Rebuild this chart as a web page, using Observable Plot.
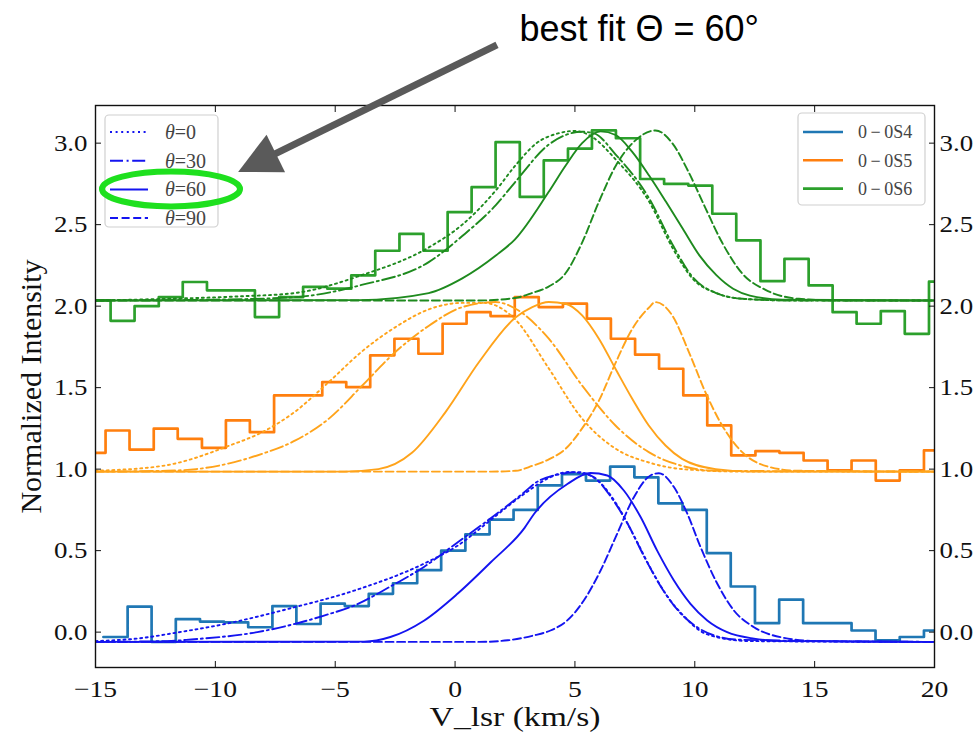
<!DOCTYPE html>
<html><head><meta charset="utf-8">
<script src="https://cdn.jsdelivr.net/npm/d3@7"></script>
<script src="https://cdn.jsdelivr.net/npm/@observablehq/plot@0.6"></script>
<style>body{margin:0;background:#fff;}</style>
</head><body><div id="chart"></div>
<script>
// ---- axis ticks ----
const xTicks = [-15, -10, -5, 0, 5, 10, 15, 20];
const yTicks = [0, 0.5, 1, 1.5, 2, 2.5, 3];

// ---- observed spectra (bin left edges + levels) ----
const s4Edges = [-14.67,-13.66,-12.66,-11.65,-10.64,-9.64,-8.63,-7.62,-6.62,-5.61,-4.60,-3.60,-2.59,-1.58,-0.58,0.43,1.44,2.44,3.45,4.46,5.46,6.47,7.48,8.48,9.49,10.50,11.50,12.51,13.52,14.52,15.53,16.54,17.54,18.55,19.56,20.56];
const s4Values = [-0.03,0.157,-0.06,0.08,0.065,0.06,0.03,0.16,0.05,0.175,0.16,0.235,0.30,0.38,0.50,0.60,0.69,0.75,0.90,0.97,0.93,1.015,0.95,0.79,0.75,0.485,0.28,0.055,0.20,0.055,0.055,0.01,-0.05,-0.03,0.01];

const s5Edges = [-15.58,-14.58,-13.58,-12.57,-11.57,-10.56,-9.56,-8.56,-7.55,-6.55,-5.54,-4.54,-3.54,-2.53,-1.53,-0.52,0.48,1.48,2.49,3.49,4.50,5.50,6.50,7.51,8.51,9.52,10.52,11.52,12.53,13.53,14.54,15.54,16.54,17.55,18.55,19.56,20.56];
const s5Values = [1.10,1.237,1.12,1.248,1.186,1.131,1.299,1.227,1.452,1.452,1.534,1.503,1.698,1.80,1.708,1.892,1.963,1.939,2.055,1.994,2.015,1.923,1.80,1.702,1.616,1.452,1.268,1.084,1.11,1.10,1.053,0.992,1.053,0.93,0.992,1.115];

const s6Edges = [-15.37,-14.37,-13.37,-12.36,-11.36,-10.35,-9.35,-8.35,-7.34,-6.34,-5.33,-4.33,-3.33,-2.32,-1.32,-0.31,0.69,1.69,2.70,3.70,4.71,5.71,6.71,7.72,8.72,9.73,10.73,11.73,12.74,13.74,14.75,15.75,16.75,17.76,18.76,19.77,20.77];
const s6Values = [2.035,1.91,2.0,2.055,2.148,2.097,2.097,1.933,2.055,2.118,2.107,2.189,2.34,2.444,2.34,2.577,2.73,3.006,2.67,2.894,2.966,3.078,3.03,2.78,2.75,2.74,2.567,2.403,2.153,2.29,2.127,1.963,1.892,1.97,1.83,2.15];

// ---- model profiles [velocity, intensity] ----
const s4Theta0 = [[-15,-0.055],[-13,-0.035],[-11.7,-0.005],[-9.6,0.05],[-6.9,0.145],[-4.1,0.26],[-1.3,0.42],[0.1,0.53],[1.5,0.69],[2.9,0.85],[3.9,0.945],[4.7,0.982],[5.4,0.972],[6.1,0.91],[6.8,0.77],[7.5,0.58],[8.2,0.38],[8.9,0.21],[9.6,0.09],[10.2,0.01],[10.9,-0.03],[12.3,-0.055],[20,-0.06]];
const s4Theta30 = [[-15,-0.06],[-12,-0.055],[-11,-0.045],[-8.25,0.0],[-5.5,0.1],[-4.1,0.17],[-2.7,0.28],[-1.3,0.40],[0.1,0.55],[1.5,0.70],[2.9,0.86],[3.3,0.91],[4.4,0.97],[5.1,0.982],[5.8,0.95],[6.5,0.83],[7.2,0.665],[7.9,0.46],[8.6,0.276],[9.3,0.133],[10.0,0.04],[10.8,-0.02],[11.9,-0.047],[20,-0.06]];
const s4Theta60 = [[-15,-0.06],[-3.8,-0.058],[-2.7,-0.03],[-1.3,0.07],[0.1,0.235],[1.5,0.43],[2.9,0.64],[3.3,0.726],[4.7,0.91],[5.65,0.976],[6.35,0.961],[7.04,0.869],[7.74,0.706],[8.43,0.5],[9.13,0.317],[9.82,0.174],[10.52,0.072],[11.35,0.0],[12.47,-0.04],[13.7,-0.055],[20,-0.06]];
const s4Theta90 = [[-15,-0.06],[1.0,-0.06],[2.2,-0.05],[3.29,-0.02],[3.98,0.01],[4.68,0.072],[5.37,0.194],[6.07,0.378],[6.76,0.603],[7.46,0.828],[8.15,0.961],[8.5,0.975],[9.13,0.89],[9.69,0.726],[10.24,0.522],[10.94,0.297],[11.63,0.133],[12.47,0.03],[13.58,-0.031],[15.1,-0.055],[20,-0.06]];

const s5Theta0 = [[-15,0.99],[-12.2,1.02],[-9.4,1.145],[-8.0,1.23],[-6.7,1.35],[-5.3,1.53],[-3.9,1.72],[-2.5,1.87],[-1.1,1.98],[0.3,2.02],[1.2,2.02],[2.5,1.92],[3.9,1.62],[5.3,1.31],[6.7,1.125],[8.1,1.04],[9.5,1.0],[12,0.985],[20,0.985]];
const s5Theta30 = [[-15,0.985],[-12,0.99],[-10.8,1.0],[-8.05,1.094],[-6.66,1.176],[-5.26,1.31],[-3.87,1.513],[-2.48,1.72],[-1.09,1.88],[0.3,1.994],[1.69,2.025],[2.52,1.984],[3.91,1.80],[5.3,1.513],[6.69,1.268],[8.08,1.104],[9.47,1.02],[10.87,0.99],[20,0.985]];
const s5Theta60 = [[-15,0.985],[-4.6,0.985],[-3.2,1.0],[-1.8,1.10],[-0.4,1.35],[1.0,1.657],[2.52,1.93],[3.22,1.994],[3.91,2.025],[4.61,2.015],[5.3,1.943],[6.0,1.80],[6.69,1.616],[7.39,1.432],[8.08,1.268],[8.78,1.145],[9.47,1.063],[10.87,1.0],[12.3,0.985],[20,0.985]];
const s5Theta90 = [[-15,0.985],[1.5,0.985],[2.52,0.99],[3.22,1.02],[3.91,1.06],[4.61,1.125],[5.3,1.25],[6.0,1.42],[6.69,1.65],[7.39,1.86],[8.08,1.99],[8.36,2.025],[9.06,1.943],[9.75,1.72],[10.45,1.47],[11.14,1.268],[11.98,1.104],[12.95,1.02],[14.3,0.99],[20,0.985]];

const s6Theta0 = [[-15,2.035],[-12,2.045],[-9,2.06],[-6.7,2.08],[-3.9,2.19],[-1.1,2.36],[0.3,2.50],[1.7,2.71],[2.5,2.86],[3.4,3.0],[4.3,3.06],[5.0,3.075],[5.7,3.04],[6.7,2.90],[8.1,2.64],[9.1,2.35],[9.9,2.17],[10.9,2.08],[12,2.045],[14,2.035],[20,2.035]];
const s6Theta30 = [[-15,2.035],[-10,2.04],[-6.7,2.055],[-3.9,2.13],[-1.1,2.27],[0.3,2.43],[1.7,2.62],[2.5,2.76],[3.9,2.99],[5.3,3.07],[5.8,3.06],[6.7,2.93],[8.1,2.66],[9.1,2.37],[9.9,2.18],[10.9,2.08],[12,2.045],[14,2.035],[20,2.035]];
const s6Theta60 = [[-15,2.035],[-4,2.037],[-1.1,2.08],[0.3,2.17],[1.7,2.31],[2.5,2.41],[3.9,2.70],[4.6,2.86],[5.3,3.0],[6.07,3.072],[6.7,3.05],[7.4,2.945],[8.1,2.80],[8.8,2.64],[9.5,2.475],[10.2,2.31],[10.9,2.19],[11.6,2.107],[12.3,2.065],[13.65,2.04],[20,2.035]];
const s6Theta90 = [[-15,2.035],[1,2.035],[2.5,2.05],[3.2,2.08],[3.9,2.12],[4.6,2.20],[5.3,2.39],[6.0,2.64],[6.7,2.86],[7.4,3.0],[8.36,3.078],[9.06,3.0],[9.75,2.82],[10.45,2.60],[11.14,2.39],[11.98,2.20],[12.95,2.10],[14.34,2.045],[16,2.035],[20,2.035]];

// ---- labels ----
const lineNames = ["0\u2009−\u20090S4", "0\u2009−\u20090S5", "0\u2009−\u20090S6"];
const thetaNames = ["0", "30", "60", "90"];
const annotationText = "best fit Θ = 60°";
// annotation geometry in data units: arrow start, arrow tip, ellipse centre & radii, text anchor
const arrowFrom = [1.77, 3.60];
const arrowTo = [-9.03, 2.82];
const ellipseCentre = [-11.83, 2.716];
const ellipseRadii = [2.88, 0.107];
const annotationAt = [7.70, 3.624];

// ---- styling ----
const histColors = ["#1f77b4", "#ff7f0e", "#2ca02c"];
const modelColors = ["#1414f0", "#ffa31a", "#1e8a1e"];
const dashes = ["2,3.6", "13,3.6,2,3.6", null, "8,3.6"];

function steps(edges, values) {
  const rows = values.map((v, i) => ({x: edges[i], y: v}));
  rows.push({x: edges[values.length], y: values[values.length - 1]});
  return rows;
}
const toRows = pts => pts.map(([x, y]) => ({x, y}));

const histograms = [[s4Edges, s4Values], [s5Edges, s5Values], [s6Edges, s6Values]];
const models = [
  [s4Theta0, s4Theta30, s4Theta60, s4Theta90],
  [s5Theta0, s5Theta30, s5Theta60, s5Theta90],
  [s6Theta0, s6Theta30, s6Theta60, s6Theta90]
];

const marks = [];
histograms.forEach(([e, v], i) => {
  marks.push(Plot.line(steps(e, v), {x: "x", y: "y", curve: "step-after", stroke: histColors[i], strokeWidth: 2.7, clip: true}));
});
models.forEach((set, i) => {
  set.forEach((pts, j) => {
    marks.push(Plot.line(toRows(pts), {x: "x", y: "y", curve: "monotone-x", stroke: modelColors[i], strokeWidth: 1.9, strokeDasharray: dashes[j], clip: true}));
  });
});

const serif = "'Liberation Serif', 'Times New Roman', 'DejaVu Serif', serif";
const tickFont = {fontFamily: serif, fontSize: 24, fill: "#111"};

const plot = Plot.plot({
  width: 976,
  height: 734,
  marginLeft: 95,
  marginRight: 42,
  marginTop: 105,
  marginBottom: 67,
  style: {fontFamily: serif, fontSize: "24px", background: "#fff", color: "#111"},
  x: {domain: [-15, 20]},
  y: {domain: [-0.217, 3.231]},
  marks: [
    ...marks,
    Plot.frame({stroke: "#111", strokeWidth: 1.4}),
    Plot.axisX({anchor: "bottom", ticks: xTicks, tickSize: -6, tickPadding: 18, label: null, ...tickFont}),
    Plot.axisX({anchor: "top", ticks: xTicks, tickSize: -6, tickFormat: () => "", label: null}),
    Plot.axisY({anchor: "left", ticks: yTicks, tickSize: -6, tickPadding: 14, tickFormat: d3.format(".1f"), label: null, ...tickFont}),
    Plot.axisY({anchor: "right", ticks: yTicks, tickSize: -6, tickPadding: 11, tickFormat: d3.format(".1f"), label: null, ...tickFont}),
    Plot.text(["Normalized Intensity"], {frameAnchor: "left", dx: -64, rotate: -90, textAnchor: "middle", lineAnchor: "middle", text: d => d, fontSize: 30, fontFamily: serif, fill: "#111"}),
    Plot.text(["V_lsr (km/s)"], {frameAnchor: "bottom", dy: 50, textAnchor: "middle", lineAnchor: "middle", text: d => d, fontSize: 28, fontFamily: serif, fill: "#111"})
  ]
});
document.getElementById("chart").appendChild(plot);

const svg = d3.select(plot);
const xs = plot.scale("x"), ys = plot.scale("y");
const X = v => xs.apply(v), Y = v => ys.apply(v);

// the reference figure's lettering is slightly wider than Times: widen axis texts
function widen(selection, k) {
  selection.each(function() {
    const w = this.getComputedTextLength();
    if (w > 0) {
      this.setAttribute("textLength", (w * k).toFixed(1));
      this.setAttribute("lengthAdjust", "spacingAndGlyphs");
    }
  });
}
widen(svg.selectAll('g[aria-label="x-axis tick label"] text'), 1.15);
widen(svg.selectAll('g[aria-label="y-axis tick label"] text'), 1.12);
widen(svg.selectAll("text").filter(function() { return this.textContent === "V_lsr (km/s)"; }), 1.2);

// ---- legends ----
function legendBox(x0, y0, w, h) {
  svg.append("rect").attr("x", x0).attr("y", y0).attr("width", w).attr("height", h)
    .attr("rx", 4).attr("fill", "#fff").attr("fill-opacity", 0.85).attr("stroke", "#d0d0d0").attr("stroke-width", 1.2);
}
legendBox(105, 115, 113, 112);
thetaNames.forEach((t, j) => {
  const y = 132 + j * 28.7;
  svg.append("line").attr("x1", 110).attr("x2", 148).attr("y1", y).attr("y2", y)
    .attr("stroke", modelColors[0]).attr("stroke-width", 2).attr("stroke-dasharray", dashes[j]);
  const tx = svg.append("text").attr("x", 165).attr("y", y).attr("dy", "0.35em")
    .attr("text-anchor", "start")
    .attr("font-family", serif).attr("font-size", 20).attr("fill", "#444");
  tx.append("tspan").attr("font-style", "italic").text("θ");
  tx.append("tspan").text("=" + t);
});
legendBox(798, 113, 127, 92);
lineNames.forEach((n, i) => {
  const y = 132 + i * 28.3;
  svg.append("line").attr("x1", 803).attr("x2", 843).attr("y1", y).attr("y2", y)
    .attr("stroke", histColors[i]).attr("stroke-width", 2.6);
  svg.append("text").attr("x", 858).attr("y", y).attr("dy", "0.35em")
    .attr("text-anchor", "start")
    .attr("font-family", serif).attr("font-size", 18).attr("fill", "#444").text(n);
});

// ---- annotation: ellipse, arrow, text ----
svg.append("ellipse")
  .attr("cx", X(ellipseCentre[0])).attr("cy", Y(ellipseCentre[1]))
  .attr("rx", Math.abs(X(ellipseCentre[0] + ellipseRadii[0]) - X(ellipseCentre[0])))
  .attr("ry", Math.abs(Y(ellipseCentre[1] + ellipseRadii[1]) - Y(ellipseCentre[1])))
  .attr("fill", "none").attr("stroke", "#1ee01e").attr("stroke-width", 6);

const sx = X(arrowFrom[0]), sy = Y(arrowFrom[1]);
const tx = X(arrowTo[0]), ty = Y(arrowTo[1]);
const len = Math.hypot(tx - sx, ty - sy);
const ux = (tx - sx) / len, uy = (ty - sy) / len;
const headLen = 42, headHalf = 21;
const bx = tx - ux * headLen, by = ty - uy * headLen;
svg.append("line").attr("x1", sx).attr("y1", sy).attr("x2", bx + ux * 2).attr("y2", by + uy * 2)
  .attr("stroke", "#5a5a5a").attr("stroke-width", 7);
svg.append("path")
  .attr("d", `M${tx},${ty}L${bx - uy * headHalf},${by + ux * headHalf}L${bx + uy * headHalf},${by - ux * headHalf}Z`)
  .attr("fill", "#5a5a5a");

svg.append("text").attr("x", X(annotationAt[0])).attr("y", Y(annotationAt[1]))
  .attr("text-anchor", "middle").attr("font-family", "'Liberation Sans', Arial, sans-serif")
  .attr("font-size", 36).attr("fill", "#000").text(annotationText);
</script>
</body></html>
